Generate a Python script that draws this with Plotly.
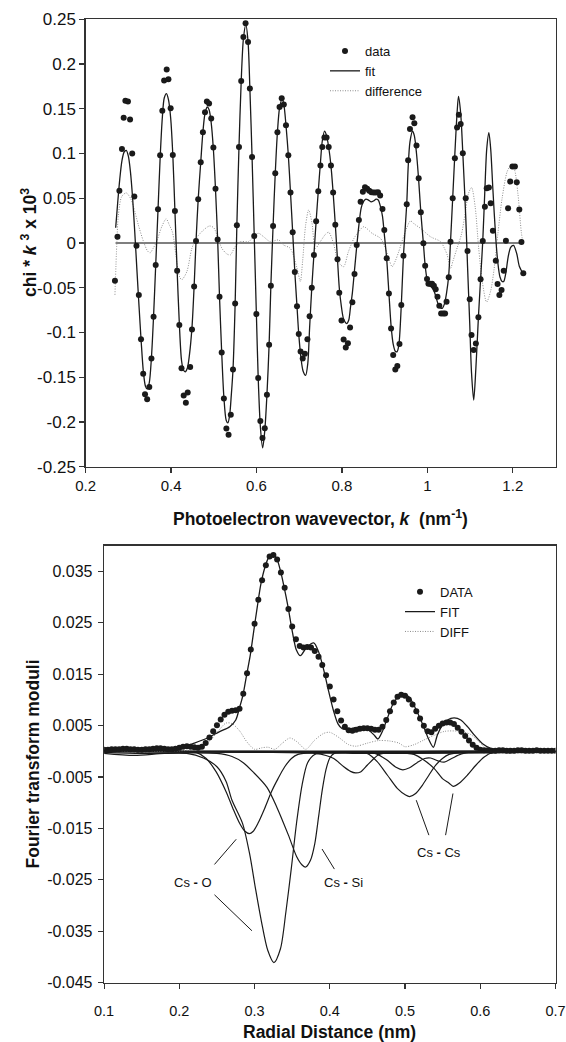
import plotly.graph_objects as go

# ---------------- TOP PANEL DATA (k in nm^-1, chi*k^3 x 10^3) ----------------
top_data_k = [0.2686, 0.2745, 0.2790, 0.2850, 0.2890, 0.2930, 0.2990, 0.3040, 0.3090, 0.3140,
              0.3190, 0.3245, 0.3296, 0.3347, 0.3390, 0.3440, 0.3490, 0.3540, 0.3590, 0.3640,
              0.3694, 0.3744, 0.3795, 0.3837, 0.3897, 0.3938, 0.3990, 0.4040, 0.4090, 0.4142,
              0.4193, 0.4244, 0.4295, 0.4346, 0.4389, 0.4447, 0.4490, 0.4540, 0.4584, 0.4635,
              0.4694, 0.4745, 0.4795, 0.4838, 0.4890, 0.4940, 0.4990, 0.5040, 0.5090, 0.5134,
              0.5185, 0.5236, 0.5295, 0.5346, 0.5398, 0.5450, 0.5500, 0.5540, 0.5590, 0.5642,
              0.5693, 0.5744, 0.5802, 0.5845, 0.5896, 0.5947, 0.5997, 0.6040, 0.6090, 0.6140,
              0.6193, 0.6244, 0.6295, 0.6336, 0.6388, 0.6439, 0.6490, 0.6540, 0.6590, 0.6640,
              0.6690, 0.6745, 0.6796, 0.6847, 0.6897, 0.6948, 0.6989, 0.7032, 0.7082, 0.7133,
              0.7192, 0.7243, 0.7294, 0.7344, 0.7396, 0.7446, 0.7497, 0.7540, 0.7590, 0.7640,
              0.7690, 0.7743, 0.7794, 0.7845, 0.7896, 0.7938, 0.7990, 0.8040, 0.8090, 0.8140,
              0.8190, 0.8244, 0.8295, 0.8346, 0.8397, 0.8437, 0.8490, 0.8540, 0.8590, 0.8640,
              0.8690, 0.8742, 0.8793, 0.8844, 0.8895, 0.8949, 0.8992, 0.9048, 0.9100, 0.9150,
              0.9200, 0.9250, 0.9297, 0.9347, 0.9390, 0.9440, 0.9517, 0.9550, 0.9593, 0.9653,
              0.9695, 0.9746, 0.9797, 0.9847, 0.9907, 0.9949, 0.9992, 1.0025, 1.0068, 1.0110,
              1.0153, 1.0195, 1.0237, 1.0280, 1.0322, 1.0373, 1.0415, 1.0449, 1.0500, 1.0542,
              1.0593, 1.0644, 1.0695, 1.0737, 1.0780, 1.0830, 1.0898, 1.0940, 1.0992, 1.1034,
              1.1085, 1.1136, 1.1195, 1.1246, 1.1297, 1.1347, 1.1390, 1.1440, 1.1483, 1.1534,
              1.1602, 1.1644, 1.1686, 1.1737, 1.1788, 1.1839, 1.1890, 1.1940, 1.1991, 1.2050,
              1.2093, 1.2153, 1.2203, 1.2246]
top_data_chi = [-0.0421, 0.0070, 0.0585, 0.1050, 0.1400, 0.1590, 0.1580, 0.1380, 0.1000, 0.0520,
                -0.0030, -0.0580, -0.1075, -0.1460, -0.1690, -0.1745, -0.1610, -0.1290, -0.0825, -0.0246,
                0.0377, 0.0980, 0.1477, 0.1816, 0.1940, 0.1830, 0.1507, 0.0984, 0.0358, -0.0310,
                -0.0917, -0.1400, -0.1704, -0.1786, -0.1670, -0.1387, -0.0966, -0.0485, 0.0022, 0.0490,
                0.0903, 0.1238, 0.1460, 0.1580, 0.1560, 0.1390, 0.1066, 0.0607, 0.0040, -0.0600,
                -0.1223, -0.1738, -0.2073, -0.2144, -0.1920, -0.1413, -0.0675, 0.0198, 0.1074, 0.1810,
                0.2301, 0.2457, 0.2245, 0.1726, 0.0962, 0.0078, -0.0794, -0.1510, -0.1990, -0.2178,
                -0.2070, -0.1697, -0.1138, -0.0477, 0.0190, 0.0780, 0.1238, 0.1520, 0.1619, 0.1547,
                0.1317, 0.0980, 0.0563, 0.0120, -0.0324, -0.0708, -0.1018, -0.1212, -0.1290, -0.1238,
                -0.1077, -0.0820, -0.0500, -0.0134, 0.0243, 0.0578, 0.0865, 0.1074, 0.1178, 0.1178,
                0.1074, 0.0865, 0.0563, 0.0205, -0.0183, -0.0556, -0.0865, -0.1078, -0.1167, -0.1119,
                -0.0943, -0.0663, -0.0347, -0.0022, 0.0257, 0.0462, 0.0574, 0.0623, 0.0607, 0.0585,
                0.0567, 0.0563, 0.0563, 0.0567, 0.0530, 0.0380, 0.0145, -0.0170, -0.0563, -0.0955,
                -0.1253, -0.1413, -0.1376, -0.1130, -0.0694, -0.0142, 0.0433, 0.0925, 0.1275, 0.1406,
                0.1339, 0.1089, 0.0723, 0.0343, -0.0004, -0.0254, -0.0403, -0.0455, -0.0455, -0.0455,
                -0.0477, -0.0518, -0.0600, -0.0700, -0.0787, -0.0787, -0.0787, -0.0656, -0.0384, 0.0015,
                0.0500, 0.0947, 0.1290, 0.1432, 0.1331, 0.1003, 0.0500, -0.0089, -0.0630, -0.1029,
                -0.1197, -0.1122, -0.0831, -0.0406, 0.0022, 0.0406, 0.0611, 0.0619, 0.0444, 0.0138,
                -0.0198, -0.0459, -0.0582, -0.0526, -0.0309, 0.0026, 0.0388, 0.0686, 0.0854, 0.0854,
                0.0679, 0.0373, 0.0011, -0.0339]

top_fit_k = [0.2703, 0.2750, 0.2800, 0.2850, 0.2900, 0.2950, 0.3000, 0.3050, 0.3100, 0.3150,
             0.3200, 0.3250, 0.3300, 0.3350, 0.3400, 0.3440, 0.3490, 0.3540, 0.3590, 0.3640,
             0.3694, 0.3744, 0.3795, 0.3840, 0.3892, 0.3940, 0.3990, 0.4040, 0.4090, 0.4142,
             0.4193, 0.4244, 0.4290, 0.4330, 0.4380, 0.4430, 0.4490, 0.4540, 0.4584, 0.4635,
             0.4694, 0.4745, 0.4795, 0.4847, 0.4890, 0.4940, 0.4990, 0.5040, 0.5090, 0.5134,
             0.5185, 0.5236, 0.5290, 0.5330, 0.5370, 0.5410, 0.5450, 0.5500, 0.5540, 0.5590,
             0.5642, 0.5693, 0.5750, 0.5802, 0.5845, 0.5896, 0.5947, 0.5997, 0.6040, 0.6090,
             0.6144, 0.6193, 0.6244, 0.6295, 0.6336, 0.6388, 0.6439, 0.6490, 0.6540, 0.6600,
             0.6640, 0.6690, 0.6745, 0.6796, 0.6847, 0.6897, 0.6948, 0.6989, 0.7040, 0.7090,
             0.7150, 0.7200, 0.7243, 0.7294, 0.7344, 0.7396, 0.7446, 0.7497, 0.7540, 0.7593,
             0.7640, 0.7690, 0.7743, 0.7794, 0.7845, 0.7896, 0.7938, 0.7990, 0.8040, 0.8110,
             0.8160, 0.8200, 0.8244, 0.8295, 0.8346, 0.8397, 0.8450, 0.8500, 0.8560, 0.8620,
             0.8680, 0.8740, 0.8800, 0.8850, 0.8895, 0.8949, 0.8992, 0.9048, 0.9100, 0.9150,
             0.9200, 0.9250, 0.9288, 0.9330, 0.9390, 0.9440, 0.9517, 0.9550, 0.9593, 0.9653,
             0.9695, 0.9746, 0.9797, 0.9847, 0.9907, 0.9949, 0.9992, 1.0040, 1.0090, 1.0150,
             1.0200, 1.0250, 1.0300, 1.0347, 1.0400, 1.0449, 1.0500, 1.0542, 1.0593, 1.0644,
             1.0695, 1.0729, 1.0780, 1.0830, 1.0898, 1.0940, 1.0992, 1.1034, 1.1085, 1.1136,
             1.1195, 1.1246, 1.1297, 1.1347, 1.1390, 1.1440, 1.1483, 1.1534, 1.1602, 1.1650,
             1.1700, 1.1750, 1.1788, 1.1839, 1.1890, 1.1950, 1.2017, 1.2093, 1.2153, 1.2237]
top_fit_chi = [0.0170, 0.0450, 0.0720, 0.0920, 0.1015, 0.1035, 0.0970, 0.0790, 0.0500, 0.0120,
               -0.0300, -0.0710, -0.1100, -0.1430, -0.1600, -0.1630, -0.1560, -0.1280, -0.0820, -0.0250,
               0.0370, 0.0950, 0.1400, 0.1620, 0.1670, 0.1600, 0.1400, 0.0990, 0.0360, -0.0310,
               -0.0900, -0.1310, -0.1420, -0.1440, -0.1400, -0.1250, -0.0940, -0.0480, 0.0020, 0.0490,
               0.0900, 0.1240, 0.1450, 0.1520, 0.1490, 0.1340, 0.1050, 0.0600, 0.0040, -0.0600,
               -0.1220, -0.1720, -0.1980, -0.2010, -0.1930, -0.1700, -0.1410, -0.0675, 0.0198, 0.1074,
               0.1810, 0.2280, 0.2440, 0.2250, 0.1726, 0.0962, 0.0078, -0.0794, -0.1510, -0.2050,
               -0.2290, -0.2100, -0.1697, -0.1138, -0.0477, 0.0190, 0.0780, 0.1238, 0.1510, 0.1610,
               0.1550, 0.1317, 0.0980, 0.0563, 0.0120, -0.0324, -0.0708, -0.1018, -0.1280, -0.1430,
               -0.1480, -0.1350, -0.0950, -0.0500, -0.0134, 0.0243, 0.0578, 0.0900, 0.1140, 0.1250,
               0.1200, 0.1070, 0.0865, 0.0563, 0.0205, -0.0183, -0.0500, -0.0720, -0.0850, -0.0900,
               -0.0860, -0.0720, -0.0560, -0.0300, -0.0040, 0.0200, 0.0390, 0.0460, 0.0490, 0.0480,
               0.0460, 0.0470, 0.0490, 0.0480, 0.0420, 0.0300, 0.0100, -0.0180, -0.0560, -0.0920,
               -0.1130, -0.1210, -0.1216, -0.1150, -0.0694, -0.0142, 0.0433, 0.0840, 0.1130, 0.1249,
               0.1200, 0.1000, 0.0700, 0.0343, -0.0004, -0.0254, -0.0403, -0.0470, -0.0490, -0.0530,
               -0.0600, -0.0680, -0.0720, -0.0731, -0.0680, -0.0560, -0.0360, 0.0015, 0.0500, 0.1000,
               0.1450, 0.1637, 0.1450, 0.1003, 0.0300, -0.0250, -0.0900, -0.1450, -0.1756, -0.1400,
               -0.0831, -0.0406, 0.0022, 0.0600, 0.1050, 0.1234, 0.1050, 0.0600, 0.0050, -0.0220,
               -0.0380, -0.0430, -0.0430, -0.0330, -0.0160, -0.0050, -0.0026, -0.0120, -0.0260, -0.0340]

top_diff_k = [0.2686, 0.2730, 0.2766, 0.2845, 0.2950, 0.3050, 0.3118, 0.3235, 0.3352, 0.3450,
              0.3510, 0.3580, 0.3666, 0.3780, 0.3885, 0.3960, 0.4033, 0.4134, 0.4200, 0.4251,
              0.4369, 0.4487, 0.4600, 0.4759, 0.4900, 0.5000, 0.5100, 0.5190, 0.5300, 0.5385,
              0.5500, 0.5619, 0.5814, 0.5950, 0.6049, 0.6166, 0.6322, 0.6518, 0.6634, 0.6791,
              0.6948, 0.7026, 0.7080, 0.7150, 0.7222, 0.7300, 0.7378, 0.7500, 0.7620, 0.7690,
              0.7800, 0.7886, 0.7960, 0.8040, 0.8150, 0.8280, 0.8394, 0.8510, 0.8707, 0.8902,
              0.9020, 0.9100, 0.9176, 0.9250, 0.9330, 0.9450, 0.9605, 0.9700, 0.9840, 1.0074,
              1.0310, 1.0400, 1.0465, 1.0543, 1.0600, 1.0700, 1.0800, 1.0900, 1.0960, 1.1035,
              1.1120, 1.1200, 1.1286, 1.1387, 1.1480, 1.1560, 1.1650, 1.1750, 1.1870, 1.1950,
              1.2030, 1.2120, 1.2200, 1.2246]
top_diff_chi = [-0.0580, 0.0000, 0.0310, 0.0520, 0.0560, 0.0500, 0.0410, 0.0200, 0.0020, -0.0090,
                -0.0110, -0.0060, 0.0020, 0.0180, 0.0270, 0.0200, 0.0120, -0.0210, -0.0380, -0.0410,
                -0.0320, -0.0060, 0.0060, 0.0145, 0.0190, 0.0170, 0.0050, -0.0060, -0.0120, -0.0134,
                -0.0040, 0.0015, 0.0015, 0.0080, 0.0108, 0.0070, 0.0015, 0.0034, -0.0022, -0.0060,
                -0.0280, -0.0430, -0.0200, 0.0200, 0.0370, 0.0220, -0.0060, 0.0020, 0.0100, 0.0120,
                0.0000, -0.0170, -0.0240, -0.0265, -0.0100, 0.0050, 0.0127, 0.0182, 0.0108, 0.0052,
                -0.0060, -0.0180, -0.0265, -0.0200, -0.0097, 0.0080, 0.0246, 0.0210, 0.0164, 0.0070,
                0.0015, -0.0060, -0.0134, -0.0283, -0.0200, -0.0050, 0.0100, 0.0380, 0.0550, 0.0620,
                0.0400, -0.0050, -0.0430, -0.0660, -0.0540, -0.0300, 0.0100, 0.0500, 0.0800, 0.0860,
                0.0830, 0.0550, 0.0120, -0.0020]

top_zero_k = [0.27, 1.225]
top_zero_chi = [0.0, 0.0]

top_xticks = [0.2, 0.4, 0.6, 0.8, 1.0, 1.2]
top_xticklabels = ["0.2", "0.4", "0.6", "0.8", "1", "1.2"]
top_yticks = [0.25, 0.2, 0.15, 0.1, 0.05, 0.0, -0.05, -0.1, -0.15, -0.2, -0.25]
top_yticklabels = ["0.25", "0.2", "0.15", "0.1", "0.05", "0", "-0.05", "-0.1", "-0.15", "-0.2", "-0.25"]

# ---------------- BOTTOM PANEL DATA (R in nm, FT moduli) ----------------
bot_r = [0.100, 0.105, 0.110, 0.115, 0.120, 0.125, 0.130, 0.135, 0.140, 0.145,
         0.150, 0.155, 0.160, 0.165, 0.170, 0.175, 0.180, 0.185, 0.190, 0.195,
         0.200, 0.205, 0.210, 0.215, 0.220, 0.225, 0.230, 0.235, 0.240, 0.245,
         0.250, 0.255, 0.260, 0.265, 0.270, 0.275, 0.280, 0.285, 0.290, 0.295,
         0.300, 0.305, 0.310, 0.315, 0.320, 0.325, 0.330, 0.335, 0.340, 0.345,
         0.350, 0.355, 0.360, 0.365, 0.370, 0.375, 0.380, 0.385, 0.390, 0.395,
         0.400, 0.405, 0.410, 0.415, 0.420, 0.425, 0.430, 0.435, 0.440, 0.445,
         0.450, 0.455, 0.460, 0.465, 0.470, 0.475, 0.480, 0.485, 0.490, 0.495,
         0.500, 0.505, 0.510, 0.515, 0.520, 0.525, 0.530, 0.535, 0.540, 0.545,
         0.550, 0.555, 0.560, 0.565, 0.570, 0.575, 0.580, 0.585, 0.590, 0.595,
         0.600, 0.605, 0.610, 0.615, 0.620, 0.625, 0.630, 0.635, 0.640, 0.645,
         0.650, 0.655, 0.660, 0.665, 0.670, 0.675, 0.680, 0.685, 0.690, 0.695, 0.700]
bot_data = [0.0003, 0.0003, 0.0004, 0.0004, 0.0004, 0.0005, 0.0005, 0.0004, 0.0004, 0.0003,
            0.0003, 0.0004, 0.0004, 0.0005, 0.0006, 0.0006, 0.0005, 0.0004, 0.0004, 0.0005,
            0.0007, 0.0009, 0.0010, 0.0009, 0.0008, 0.0007, 0.0009, 0.0016, 0.0027, 0.0039,
            0.0051, 0.0062, 0.0071, 0.0077, 0.0079, 0.0080, 0.0083, 0.0112, 0.0152, 0.0198,
            0.0248, 0.0295, 0.0333, 0.0362, 0.0379, 0.0382, 0.0373, 0.0348, 0.0318, 0.0277,
            0.0243, 0.0218, 0.0205, 0.0202, 0.0203, 0.0202, 0.0195, 0.0184, 0.0168, 0.0148,
            0.0126, 0.0101, 0.0078, 0.0060, 0.0048, 0.0041, 0.0040, 0.0042, 0.0044, 0.0045,
            0.0045, 0.0044, 0.0042, 0.0042, 0.0048, 0.0061, 0.0078, 0.0095, 0.0106, 0.0110,
            0.0108, 0.0101, 0.0091, 0.0078, 0.0064, 0.0050, 0.0039, 0.0037, 0.0044, 0.0050,
            0.0054, 0.0056, 0.0056, 0.0053, 0.0046, 0.0038, 0.0030, 0.0021, 0.0013, 0.0007,
            0.0003, 0.0002, 0.0002, 0.0001, 0.0001, 0.0002, 0.0002, 0.0001, 0.0001, 0.0001,
            0.0002, 0.0002, 0.0001, 0.0001, 0.0001, 0.0002, 0.0001, 0.0001, 0.0001, 0.0001, 0.0001]

bot_fit_r = [0.100, 0.140, 0.180, 0.200, 0.218, 0.236, 0.253, 0.267, 0.275, 0.280,
             0.2845, 0.289, 0.2943, 0.2987, 0.3036, 0.3085, 0.3138, 0.3191, 0.3245, 0.3294,
             0.3343, 0.3392, 0.3445, 0.3503, 0.3556, 0.3608, 0.3697, 0.3786, 0.3853, 0.392,
             0.3986, 0.4053, 0.4107, 0.4165, 0.4231, 0.4342, 0.4453, 0.452, 0.4587, 0.464,
             0.4697, 0.4764, 0.4853, 0.4942, 0.4986, 0.5053, 0.5141, 0.523, 0.5319, 0.5377,
             0.543, 0.5497, 0.5564, 0.5653, 0.5741, 0.583, 0.5919, 0.603, 0.6141, 0.6275, 0.700]
bot_fit = [0.0002, 0.0002, 0.0003, 0.0006, 0.0015, 0.0025, 0.0038, 0.0048, 0.0061, 0.0085,
           0.0109, 0.0145, 0.0187, 0.0232, 0.0281, 0.0326, 0.0358, 0.0378, 0.0383, 0.0375,
           0.0352, 0.0320, 0.0281, 0.0232, 0.0197, 0.0186, 0.0203, 0.0211, 0.0193, 0.0158,
           0.0116, 0.0077, 0.0054, 0.0044, 0.0043, 0.0046, 0.0048, 0.0041, 0.0032, 0.0024,
           0.0038, 0.0064, 0.0096, 0.0110, 0.0112, 0.0106, 0.0083, 0.0054, 0.0022, 0.0008,
           0.0032, 0.0051, 0.0061, 0.0065, 0.0061, 0.0048, 0.0032, 0.0015, 0.0006, 0.0002, 0.0001]

bot_diff_r = [0.100, 0.200, 0.225, 0.240, 0.252, 0.262, 0.270, 0.280, 0.290, 0.300,
              0.310, 0.318, 0.327, 0.337, 0.347, 0.357, 0.368, 0.380, 0.392, 0.400,
              0.412, 0.425, 0.435, 0.450, 0.465, 0.480, 0.492, 0.500, 0.512, 0.525,
              0.540, 0.553, 0.572, 0.587, 0.600, 0.610, 0.625, 0.700]
bot_diff = [0.0001, 0.0001, 0.0005, 0.0020, 0.0040, 0.0055, 0.0054, 0.0040, 0.0018, 0.0004,
            0.0007, 0.0008, 0.0004, 0.0016, 0.0026, 0.0018, 0.0004, 0.0022, 0.0035, 0.0037,
            0.0027, 0.0013, 0.0010, 0.0016, 0.0021, 0.0020, 0.0016, 0.0009, 0.0013, 0.0022,
            0.0032, 0.0039, 0.0039, 0.0033, 0.0016, 0.0003, 0.0001, 0.0001]

# individual shell contributions (drawn negative)
csO1_r = [0.100, 0.130, 0.160, 0.190, 0.2224, 0.2357, 0.249, 0.2623, 0.2712, 0.2801, 0.2868, 0.2930,
          0.2979, 0.3045, 0.3134, 0.3223, 0.3312, 0.3401, 0.3490, 0.3578, 0.380, 0.450, 0.550, 0.700]
csO1_v = [0.0002, 0.0007, 0.0004, 0.0001, -0.0002, -0.0014, -0.0040, -0.0079, -0.0111, -0.0140, -0.0155, -0.0160,
          -0.0156, -0.0140, -0.0111, -0.0079, -0.0053, -0.0030, -0.0014, -0.0006, -0.0003, -0.0004, -0.0003, -0.0001]
csO2_r = [0.100, 0.140, 0.180, 0.210, 0.232, 0.250, 0.262, 0.270, 0.284, 0.2935, 0.301, 0.309,
          0.3175, 0.3257, 0.3344, 0.3416, 0.3488, 0.3560, 0.3632, 0.3705, 0.380, 0.400, 0.500, 0.700]
csO2_v = [-0.0004, -0.0008, -0.0004, -0.0004, -0.0013, -0.0030, -0.0058, -0.0095, -0.0140, -0.0200, -0.0265, -0.0330,
          -0.0387, -0.0411, -0.0384, -0.0313, -0.0228, -0.0137, -0.0065, -0.0022, -0.0006, -0.0003, -0.0004, -0.0002]
csSi_r = [0.100, 0.150, 0.200, 0.250, 0.270, 0.285, 0.298, 0.3165, 0.330, 0.345, 0.356, 0.3632,
          0.368, 0.3743, 0.380, 0.3853, 0.390, 0.395, 0.400, 0.406, 0.430, 0.550, 0.700]
csSi_v = [-0.0002, -0.0004, -0.0003, -0.0004, -0.0010, -0.0022, -0.0040, -0.0070, -0.0110, -0.0163, -0.0205, -0.0221,
          -0.0225, -0.0212, -0.0180, -0.0125, -0.0075, -0.0035, -0.0013, -0.0004, -0.0002, -0.0002, -0.0001]
shellD_r = [0.100, 0.300, 0.380, 0.395, 0.4053, 0.4186, 0.4275, 0.4342, 0.4408, 0.4497, 0.4586, 0.4653, 0.480, 0.700]
shellD_v = [0.0000, -0.0002, -0.0004, -0.0008, -0.0014, -0.0030, -0.0039, -0.0042, -0.0040, -0.0027, -0.0014, -0.0006, -0.0002, 0.0000]
csCs1_r = [0.100, 0.400, 0.440, 0.4497, 0.463, 0.4764, 0.4897, 0.5008, 0.506, 0.5141, 0.523, 0.5319,
           0.5408, 0.5497, 0.5586, 0.575, 0.700]
csCs1_v = [0.0000, -0.0002, -0.0002, -0.0004, -0.0020, -0.0046, -0.0072, -0.0085, -0.0088, -0.0082, -0.0066, -0.0046,
           -0.0027, -0.0014, -0.0006, -0.0002, 0.0000]
shellF_r = [0.100, 0.440, 0.460, 0.475, 0.488, 0.497, 0.506, 0.516, 0.526, 0.534, 0.543, 0.552, 0.562, 0.575, 0.590, 0.700]
shellF_v = [0.0000, -0.0002, -0.0004, -0.0016, -0.0031, -0.0036, -0.0032, -0.0022, -0.0014, -0.0013, -0.0018, -0.0021,
            -0.0014, -0.0005, -0.0001, 0.0000]
csCs2_r = [0.100, 0.480, 0.5119, 0.525, 0.5386, 0.5497, 0.5586, 0.564, 0.5719, 0.583, 0.5941, 0.6052, 0.6163, 0.700]
csCs2_v = [0.0000, -0.0002, -0.0006, -0.0017, -0.0033, -0.0053, -0.0062, -0.0068, -0.0062, -0.0046, -0.0027, -0.0011,
           -0.0002, 0.0000]

bot_zero_r = [0.1, 0.7]
bot_zero_v = [0.0, 0.0]

bot_xticks = [0.1, 0.2, 0.3, 0.4, 0.5, 0.6, 0.7]
bot_xticklabels = ["0.1", "0.2", "0.3", "0.4", "0.5", "0.6", "0.7"]
bot_yticks = [0.035, 0.025, 0.015, 0.005, -0.005, -0.015, -0.025, -0.035, -0.045]
bot_yticklabels = ["0.035", "0.025", "0.015", "0.005", "-0.005", "-0.015", "-0.025", "-0.035", "-0.045"]

# shell labels and leader lines (data coordinates of lower panel)
shell_labels = ["Cs <b>-</b> O", "Cs <b>-</b> Si", "Cs <b>-</b> Cs"]
shell_label_r = [0.218, 0.4185, 0.545]
shell_label_v = [-0.0256, -0.0256, -0.0196]
leaders = [((0.2467, -0.0220), (0.2756, -0.0171)),
           ((0.2467, -0.0279), (0.2965, -0.0349)),
           ((0.3897, -0.0190), (0.4061, -0.0229)),
           ((0.5149, -0.0095), (0.5317, -0.0163)),
           ((0.5637, -0.0082), (0.5539, -0.0163))]

# ---------------- FIGURE ----------------
FONT = "Liberation Sans, Arial, Helvetica, sans-serif"
W, H = 566, 1042
BLACK = "#1a1a1a"
AXC = "#333333"
DOT_GRAY = "#8c8c8c"

fig = go.Figure()

# top panel
fig.add_trace(go.Scatter(x=top_zero_k, y=top_zero_chi, mode="lines", xaxis="x", yaxis="y",
                         line=dict(color="#555555", width=1.5), showlegend=False, hoverinfo="skip"))
fig.add_trace(go.Scatter(x=top_diff_k, y=top_diff_chi, mode="lines", name="difference", xaxis="x", yaxis="y",
                         line=dict(color=DOT_GRAY, width=1, dash="1px,1.5px", shape="spline", smoothing=0.8),
                         legend="legend", legendrank=3))
fig.add_trace(go.Scatter(x=top_fit_k, y=top_fit_chi, mode="lines", name="fit", xaxis="x", yaxis="y",
                         line=dict(color=BLACK, width=1.3, shape="spline", smoothing=0.8),
                         legend="legend", legendrank=2))
fig.add_trace(go.Scatter(x=top_data_k, y=top_data_chi, mode="markers", name="data", xaxis="x", yaxis="y",
                         marker=dict(color=BLACK, size=6), legend="legend", legendrank=1))

# bottom panel
for rr, vv in [(csO1_r, csO1_v), (csO2_r, csO2_v), (csSi_r, csSi_v), (shellD_r, shellD_v),
               (csCs1_r, csCs1_v), (shellF_r, shellF_v), (csCs2_r, csCs2_v)]:
    fig.add_trace(go.Scatter(x=rr, y=vv, mode="lines", xaxis="x2", yaxis="y2",
                             line=dict(color=BLACK, width=1.2, shape="spline", smoothing=0.8),
                             showlegend=False, hoverinfo="skip"))
fig.add_trace(go.Scatter(x=bot_zero_r, y=bot_zero_v, mode="lines", xaxis="x2", yaxis="y2",
                         line=dict(color=BLACK, width=1.6), showlegend=False, hoverinfo="skip"))
fig.add_trace(go.Scatter(x=bot_diff_r, y=bot_diff, mode="lines", name="DIFF", xaxis="x2", yaxis="y2",
                         line=dict(color=DOT_GRAY, width=1, dash="1px,1.5px", shape="spline", smoothing=0.8),
                         legend="legend2", legendrank=3))
fig.add_trace(go.Scatter(x=bot_fit_r, y=bot_fit, mode="lines", name="FIT", xaxis="x2", yaxis="y2",
                         line=dict(color=BLACK, width=1.3, shape="spline", smoothing=0.8),
                         legend="legend2", legendrank=2))
fig.add_trace(go.Scatter(x=bot_r, y=bot_data, mode="markers", name="DATA", xaxis="x2", yaxis="y2",
                         marker=dict(color=BLACK, size=6), legend="legend2", legendrank=1))

# leader lines
for (r0, v0), (r1, v1) in leaders:
    fig.add_shape(type="line", xref="x2", yref="y2", x0=r0, y0=v0, x1=r1, y1=v1,
                  line=dict(color=BLACK, width=1))

ax_common = dict(showgrid=False, zeroline=False, showline=True, mirror=True, linecolor=AXC, linewidth=1.4,
                 ticks="outside", ticklen=5, tickwidth=1.2, tickcolor=AXC, automargin=False,
                 ticklabeloverflow="allow")

def px2paper_x(px):
    return px / W

def py2paper_y(py):
    return 1 - py / H

fig.update_layout(
    template="none",
    width=W, height=H,
    margin=dict(l=0, r=0, t=0, b=0, pad=0, autoexpand=False),
    paper_bgcolor="white", plot_bgcolor="white",
    font=dict(family=FONT, color="#111111"),
    xaxis=dict(domain=[px2paper_x(85.65), px2paper_x(555.5)], range=[0.2, 1.3], anchor="y",
               tickvals=top_xticks, ticktext=top_xticklabels, tickfont=dict(size=15),
               ticklabelstandoff=0, **ax_common),
    yaxis=dict(domain=[py2paper_y(466.7), py2paper_y(19.3)], range=[-0.25, 0.25], anchor="x",
               tickvals=top_yticks, ticktext=top_yticklabels, tickfont=dict(size=17),
               ticklabelstandoff=0, **ax_common),
    xaxis2=dict(domain=[px2paper_x(104.1), px2paper_x(555.5)], range=[0.1, 0.7], anchor="y2",
                tickvals=bot_xticks, ticktext=bot_xticklabels, tickfont=dict(size=14.5),
                ticklabelstandoff=9, **ax_common),
    yaxis2=dict(domain=[py2paper_y(982.7), py2paper_y(545.7)], range=[-0.045, 0.04], anchor="x2",
                tickvals=bot_yticks, ticktext=bot_yticklabels, tickfont=dict(size=16),
                ticklabelstandoff=2, **ax_common),
    legend=dict(x=px2paper_x(325), y=py2paper_y(36), xanchor="left", yanchor="top",
                bgcolor="rgba(0,0,0,0)", borderwidth=0, font=dict(size=13, color="#111111"),
                tracegroupgap=0, itemwidth=30),
    legend2=dict(x=px2paper_x(400), y=py2paper_y(576.7), xanchor="left", yanchor="top",
                 bgcolor="rgba(0,0,0,0)", borderwidth=0, font=dict(size=13, color="#111111"),
                 tracegroupgap=0, itemwidth=30),
    showlegend=True,
)

annotations = [
    dict(text="<b>Photoelectron wavevector, <i>k</i>  (nm<sup>-1</sup>)</b>", x=px2paper_x(320.6), y=py2paper_y(518),
         xref="paper", yref="paper", xanchor="center", yanchor="middle", showarrow=False,
         font=dict(size=17.5, family=FONT, color="#111111")),
    dict(text="<b>chi * <i>k</i> <sup>3</sup> x 10<sup>3</sup></b>", x=px2paper_x(29), y=py2paper_y(243),
         xref="paper", yref="paper", xanchor="center", yanchor="middle", showarrow=False, textangle=-90,
         font=dict(size=17.5, family=FONT, color="#111111")),
    dict(text="<b>Radial Distance (nm)</b>", x=px2paper_x(329.8), y=py2paper_y(1032),
         xref="paper", yref="paper", xanchor="center", yanchor="middle", showarrow=False,
         font=dict(size=17.5, family=FONT, color="#111111")),
    dict(text="<b>Fourier transform moduli</b>", x=px2paper_x(32.5), y=py2paper_y(764),
         xref="paper", yref="paper", xanchor="center", yanchor="middle", showarrow=False, textangle=-90,
         font=dict(size=17.5, family=FONT, color="#111111")),
]
for t, r, v in zip(shell_labels, shell_label_r, shell_label_v):
    annotations.append(dict(text=t, x=r, y=v, xref="x2", yref="y2", xanchor="center", yanchor="middle",
                            showarrow=False, font=dict(size=13, family=FONT, color="#111111")))
fig.update_layout(annotations=annotations)

# remove the default page margin so the 566x1042 figure fills the window exactly
fig.write_html("out.html",
               config={"displayModeBar": False, "staticPlot": True},
               post_script="document.body.style.margin='0';document.body.style.overflow='hidden';")
